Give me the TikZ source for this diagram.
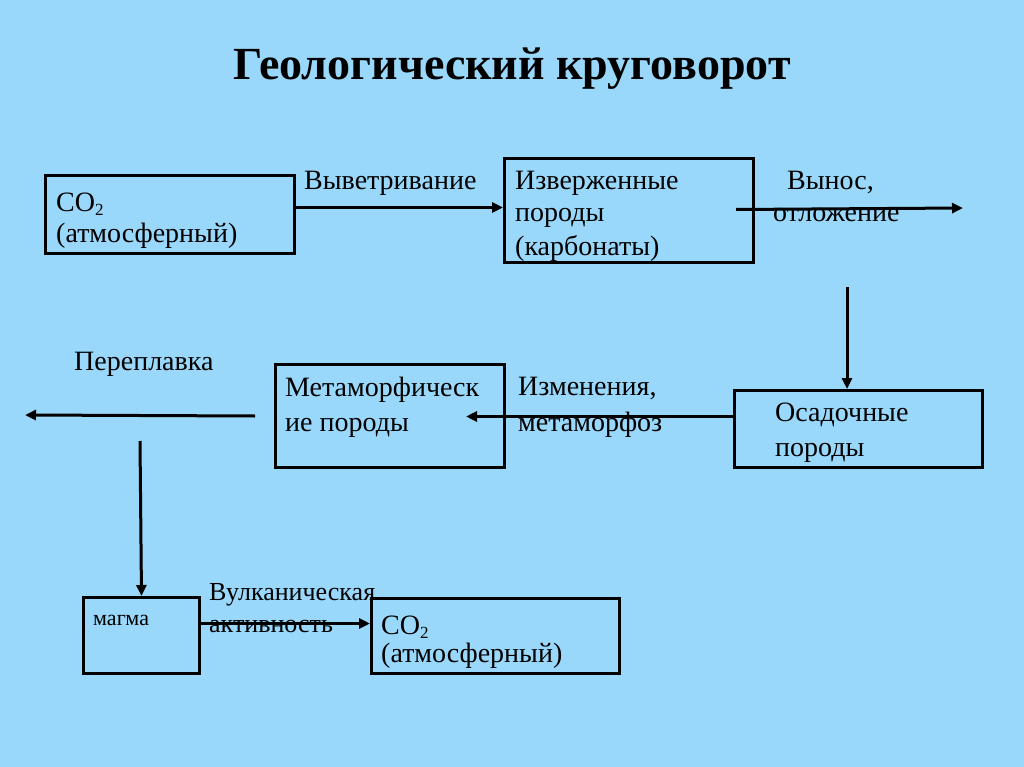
\documentclass[tikz,border=0pt]{standalone}
\usepackage{fontspec}
\setmainfont{Liberation Serif}
\usetikzlibrary{arrows.meta}
\definecolor{bg}{RGB}{153,216,250}
\newcommand{\subtwo}{\raisebox{-4pt}{\fontsize{17}{20}\selectfont 2}}
\begin{document}
\begin{tikzpicture}[x=1pt,y=-1pt,
  box/.style={draw=black,line width=3pt,minimum width=#1,inner sep=0pt,anchor=north west},
  lbl/.style={anchor=base west,inner sep=0pt,font=\fontsize{28}{32}\selectfont},
  arr/.style={line width=3pt,-{Triangle[length=11pt,width=10pt]}}]
\fill[bg] (0,0) rectangle (1024,767);
\useasboundingbox (0,0) rectangle (1024,767);
\node[anchor=base,inner sep=0pt,font=\fontsize{46}{50}\selectfont\bfseries] (title) at (512,80) {Геологический круговорот};
% boxes
\node[box=249pt,minimum height=78pt] (co2a) at (44,174) {};
\node[box=249pt,minimum height=104pt] (ign) at (503,157) {};
\node[box=229pt,minimum height=103pt] (meta) at (274,363) {};
\node[box=248pt,minimum height=77pt] (sed) at (733,389) {};
\node[box=116pt,minimum height=76pt] (mag) at (82,596) {};
\node[box=248pt,minimum height=75pt] (co2b) at (370,597) {};
% box texts
\node[lbl] (t1) at (56,212) {CO\subtwo};
\node[lbl] (t2) at (56,243) {(атмосферный)};
\node[lbl] (t3) at (515,190) {Изверженные};
\node[lbl] (t4) at (515,222) {породы};
\node[lbl] (t5) at (515,255) {(карбонаты)};
\node[lbl] (t6) at (285,396) {Метаморфическ};
\node[lbl] (t7) at (285,431) {ие породы};
\node[lbl] (t8) at (775,421) {Осадочные};
\node[lbl] (t9) at (775,456) {породы};
\node[lbl,font=\fontsize{22}{24}\selectfont] (t10) at (93,625) {магма};
\node[lbl] (t11) at (381,634) {CO\subtwo};
\node[lbl] (t12) at (381,662) {(атмосферный)};
% connector labels
\node[lbl] (l1) at (304,190) {Выветривание};
\node[lbl] (l2) at (787,190) {Вынос,};
\node[lbl] (l3) at (773,222) {отложение};
\node[lbl] (l4) at (74,370) {Переплавка};
\node[lbl] (l5) at (518,395) {Изменения,};
\node[lbl] (l6) at (518,431) {метаморфоз};
\node[lbl,font=\fontsize{26}{28}\selectfont] (l7) at (209,600) {Вулканическая};
\node[lbl,font=\fontsize{26}{28}\selectfont] (l8) at (209,632) {активность};
% free ends
\coordinate (e1) at (963,208);
\coordinate (s2) at (847,287);
\coordinate (e3) at (25,415);
\coordinate (s4) at (140,441);
% connectors
\draw[arr] ([yshift=7pt]co2a.east) -- ([yshift=7pt]co2a.east -| ign.west);
\draw[arr] ([xshift=-19pt,yshift=1pt]ign.east) -- (e1);
\draw[arr] (s2) -- (s2 |- sed.north);
\draw[arr] ([yshift=12.5pt]sed.west) -- ([xshift=-40pt,yshift=12.5pt]sed.west -| meta.east);
\draw[arr] ([xshift=-19pt]meta.west) -- (e3);
\draw[arr] (s4) -- (mag.north);
\draw[arr] ([yshift=12pt]mag.east) -- ([yshift=12pt]mag.east -| co2b.west);
\end{tikzpicture}
\end{document}
